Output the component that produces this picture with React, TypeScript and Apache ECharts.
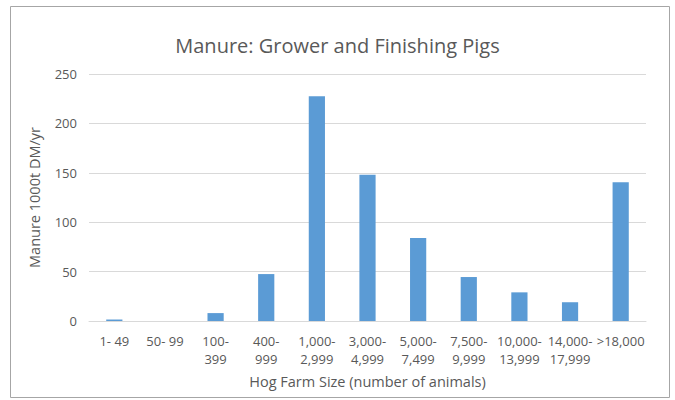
import React, { useEffect, useRef } from "react";
import * as echarts from "echarts";

const categories = [
  "1- 49",
  "50- 99",
  "100-\n399",
  "400-\n999",
  "1,000-\n2,999",
  "3,000-\n4,999",
  "5,000-\n7,499",
  "7,500-\n9,999",
  "10,000-\n13,999",
  "14,000-\n17,999",
  ">18,000",
];
const manureValues = [1.5, 0, 8, 47.5, 227.5, 148, 84, 44.5, 29, 19, 140.5];
const yTicks = { min: 0, max: 250, interval: 50 };

const FONT = "'Open Sans', 'Noto Sans', sans-serif";
const GREY = "#595959";

export default function App() {
  const ref = useRef<HTMLDivElement>(null);
  useEffect(() => {
    if (!ref.current) return;
    const chart = echarts.init(ref.current, null, { renderer: "svg" });
    chart.setOption({
      animation: false,
      backgroundColor: "#ffffff",
      textStyle: { fontFamily: FONT },
      title: {
        text: "Manure: Grower and Finishing Pigs",
        left: "center",
        top: 30,
        textStyle: { fontFamily: FONT, fontSize: 20, fontWeight: "normal", color: GREY },
      },
      graphic: [
        {
          type: "rect",
          shape: { x: 10.5, y: 6.5, width: 659, height: 391 },
          style: { fill: "none", stroke: "#a6a6a6", lineWidth: 1 },
          silent: true,
        },
      ],
      grid: { left: 89, right: 29, top: 74, bottom: 79 },
      xAxis: {
        type: "category",
        data: categories,
        axisLine: { show: true, lineStyle: { color: "#d9d9d9", width: 1 } },
        axisTick: { show: false },
        axisLabel: {
          interval: 0,
          color: GREY,
          fontFamily: FONT,
          fontSize: 13,
          lineHeight: 18,
          margin: 11,
        },
        name: "Hog Farm Size (number of animals)",
        nameLocation: "middle",
        nameGap: 53,
        nameTextStyle: { color: GREY, fontFamily: FONT, fontSize: 14.5 },
      },
      yAxis: {
        type: "value",
        min: yTicks.min,
        max: yTicks.max,
        interval: yTicks.interval,
        axisLine: { show: false },
        axisTick: { show: false },
        splitLine: { lineStyle: { color: "#d9d9d9", width: 1 } },
        axisLabel: { color: GREY, fontFamily: FONT, fontSize: 13, margin: 12 },
        name: "Manure 1000t DM/yr",
        nameLocation: "middle",
        nameGap: 47,
        nameRotate: 90,
        nameTextStyle: { color: GREY, fontFamily: FONT, fontSize: 14.5 },
      },
      series: [
        {
          type: "bar",
          data: manureValues,
          barWidth: "32%",
          itemStyle: { color: "#5b9bd5" },
        },
      ],
    });
    return () => chart.dispose();
  }, []);
  return (
    <div
      ref={ref}
      style={{ position: "fixed", left: 0, top: 0, width: 675, height: 400 }}
    />
  );
}
